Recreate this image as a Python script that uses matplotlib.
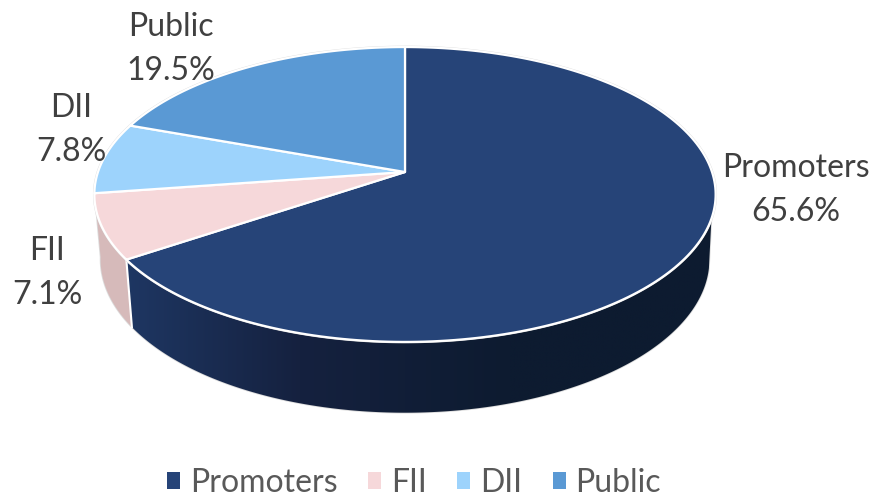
import numpy as np
import matplotlib
matplotlib.use("Agg")
import matplotlib.pyplot as plt
from matplotlib.colors import LinearSegmentedColormap
from matplotlib.patches import Patch, Polygon

names = ["Promoters", "FII", "DII", "Public"]
shares = [65.6, 7.1, 7.8, 19.5]
colors = ["#264478", "#f6d8da", "#9dd3fc", "#5a99d4"]
wall_fii = "#d6baba"
label_pos = [(796, 190), (47, 273), (71, 130), (171, 49)]

plt.rcParams["font.family"] = ["Lato", "DejaVu Sans"]

fig = plt.figure(figsize=(8.76, 4.98), dpi=100)
ax = fig.add_axes([0, 0, 1, 1])
ax.axis("off")

# tilted disc, perspective projection of the unit circle
cx, k, A, B = 405, 0.1525, 307, 144

def rim(theta, sx=1.0, sy=1.0, y0=172):
  X = np.sin(theta)
  Y = np.cos(theta)
  w = 1 + k * Y
  return np.column_stack([cx + sx * A * X / w, y0 - sy * B * Y / w])

def top(theta):
  return rim(theta)

def bottom(theta):
  return rim(theta, 0.98, 1.04, 236)

def wall(t1, t2, b1, b2):
  tt = np.radians(np.linspace(t1, t2, 200))
  bb = np.radians(np.linspace(b1, b2, 200))
  return np.vstack([top(tt), bottom(bb)[::-1]])

edges = np.radians(np.concatenate([[0], np.cumsum(shares)]) * 3.6)
apex = np.array([[cx, 172]])
split = np.degrees(edges[1])

# side wall, navy part shaded left to right
ax.add_patch(Polygon(wall(108, 255, 102, 262), closed=True, fc="none", ec="#dcdcdc", lw=1.2, zorder=1))
wall_cmap = LinearSegmentedColormap.from_list("wall", ["#203b6a", "#15213f", "#0d1b30", "#0d1b30"])
clip = Polygon(wall(108, split, 102, split), closed=True, fc="none", ec="none", transform=ax.transData)
ax.add_patch(clip)
im = ax.imshow(np.linspace(0, 1, 256)[None, :], cmap=wall_cmap, extent=(90, 720, 420, 200), aspect="auto", zorder=2)
im.set_clip_path(clip)
ax.add_patch(Polygon(wall(split, 255, split, 262), closed=True, fc=wall_fii, ec="none", zorder=2))
sep = np.array([edges[1]])
ax.plot([top(sep)[0, 0], bottom(sep)[0, 0]], [top(sep)[0, 1], bottom(sep)[0, 1]], color="white", lw=1.5, zorder=3)

# top face
full = np.radians(np.linspace(0, 360, 721))
ax.add_patch(Polygon(top(full), closed=True, fc="none", ec="#dcdcdc", lw=2.0, zorder=3))
for i in range(len(shares)):
  arc = np.linspace(edges[i], edges[i + 1], 200)
  ax.add_patch(Polygon(np.vstack([apex, top(arc)]), closed=True, fc=colors[i], ec="white",
                       lw=1.6, joinstyle="round", zorder=4))

for name, val, pos in zip(names, shares, label_pos):
  ax.text(pos[0], pos[1], f"{name}\n{val}%", ha="center", va="center", fontsize=23,
          color="#404040", linespacing=1.62, zorder=5)

handles = [Patch(fc=c, ec="none", label=n) for c, n in zip(colors, names)]
ax.legend(handles=handles, loc="center", bbox_to_anchor=(414 / 876, 1 - 483 / 498), ncol=4, frameon=False,
          fontsize=23, labelcolor="#595959", handlelength=0.41, handleheight=0.41, handletextpad=0.3,
          columnspacing=0.96, borderpad=0)

ax.set_xlim(0, 876)
ax.set_ylim(498, 0)
fig.savefig("out.png", dpi=100)
